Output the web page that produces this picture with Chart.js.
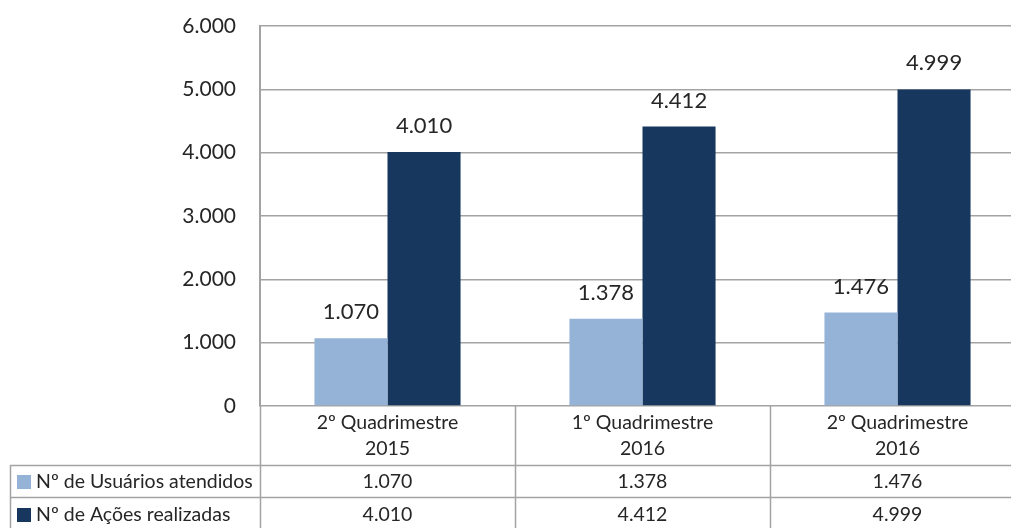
<!DOCTYPE html>
<html>
<head>
<meta charset="utf-8">
<script src="https://cdn.jsdelivr.net/npm/chart.js@4"></script>
<style>
  html, body { margin: 0; padding: 0; background: #fff; overflow: hidden; }
  #wrap { width: 1030px; height: 528px; }
</style>
</head>
<body>
<div id="wrap"><canvas id="quad-chart" width="1030" height="528"></canvas></div>
<script>
// Categories (two lines each) and series values
const categories = [
    ["2º Quadrimestre", "2015"],
    ["1º Quadrimestre", "2016"],
    ["2º Quadrimestre", "2016"]
];
const seriesNames = ["Nº de Usuários atendidos", "Nº de Ações realizadas"];
const usuarios = [1070, 1378, 1476];
const acoes = [4010, 4412, 4999];
const yMax = 6000;
const yStep = 1000;

const FONT = "Lato, 'Open Sans', sans-serif";
const TEXT = "#262626";
const LINE = "#a3a3a3";
const colors = ["#95B3D7", "#17375E"];

// thousands separator with a dot
function fmt(v) {
    return String(v).replace(/\B(?=(\d{3})+(?!\d))/g, ".");
}

// value labels above each bar
const barLabels = {
    id: "barLabels",
    afterDatasetsDraw(chart) {
        const ctx = chart.ctx;
        ctx.save();
        ctx.font = "22px " + FONT;
        ctx.fillStyle = TEXT;
        ctx.textAlign = "center";
        ctx.textBaseline = "middle";
        chart.data.datasets.forEach((ds, di) => {
            chart.getDatasetMeta(di).data.forEach((bar, i) => {
                ctx.fillText(fmt(ds.data[i]), bar.x, bar.y - 26);
            });
        });
        ctx.restore();
    }
};

// data table under the plot
const dataTable = {
    id: "dataTable",
    afterDraw(chart) {
        const ctx = chart.ctx;
        const area = chart.chartArea;
        const x = chart.scales.x;
        const catW = x.width / categories.length;
        const top = area.bottom;
        const row1 = top + 59;
        const row2 = row1 + 32;
        const bottom = row2 + 34;
        const left = 10;

        ctx.save();
        ctx.strokeStyle = LINE;
        ctx.lineWidth = 1.5;
        ctx.beginPath();
        // verticals at category edges
        for (let i = 0; i <= categories.length; i++) {
            const px = Math.round(area.left + catW * i) + 0.5;
            ctx.moveTo(px, top);
            ctx.lineTo(px, bottom);
        }
        // left header column
        ctx.moveTo(left + 0.5, row1);
        ctx.lineTo(left + 0.5, bottom);
        // row separators
        ctx.moveTo(left, row1 + 0.5);
        ctx.lineTo(area.right, row1 + 0.5);
        ctx.moveTo(left, row2 + 0.5);
        ctx.lineTo(area.right, row2 + 0.5);
        ctx.stroke();

        ctx.fillStyle = TEXT;
        ctx.textBaseline = "middle";
        ctx.textAlign = "center";
        ctx.font = "19.5px " + FONT;
        categories.forEach((lines, i) => {
            const cx = x.getPixelForValue(i);
            ctx.fillText(lines[0], cx, top + 17);
            ctx.fillText(lines[1], cx, top + 43);
            ctx.fillText(fmt(usuarios[i]), cx, row1 + 17);
            ctx.fillText(fmt(acoes[i]), cx, row2 + 18);
        });

        // series names with colour keys
        ctx.textAlign = "left";
        [row1 + 17, row2 + 18].forEach((cy, s) => {
            ctx.fillStyle = colors[s];
            ctx.fillRect(17, cy - 7, 14, 14);
            ctx.fillStyle = TEXT;
            ctx.fillText(seriesNames[s], 36, cy);
        });
        ctx.restore();
    }
};

new Chart(document.getElementById("quad-chart"), {
    type: "bar",
    data: {
        labels: categories.map(c => c.join(" ")),
        datasets: [{
            label: seriesNames[0],
            data: usuarios,
            backgroundColor: colors[0],
            categoryPercentage: 0.573,
            barPercentage: 1.0
        }, {
            label: seriesNames[1],
            data: acoes,
            backgroundColor: colors[1],
            categoryPercentage: 0.573,
            barPercentage: 1.0
        }]
    },
    options: {
        responsive: false,
        animation: false,
        layout: {
            padding: { top: 26, right: 5, bottom: 122, left: 0 }
        },
        scales: {
            x: {
                display: false
            },
            y: {
                min: 0,
                max: yMax,
                afterFit(scale) {
                    scale.width = 260;
                    scale.paddingTop = 0;
                    scale.paddingBottom = 0;
                },
                ticks: {
                    stepSize: yStep,
                    padding: 24,
                    color: TEXT,
                    font: { family: FONT, size: 21 },
                    callback: v => fmt(v)
                },
                grid: {
                    color: LINE,
                    lineWidth: 1.5,
                    drawTicks: false
                },
                border: { display: true, color: LINE, width: 2 }
            }
        },
        plugins: {
            legend: { display: false },
            tooltip: { enabled: false }
        }
    },
    plugins: [barLabels, dataTable]
});
</script>
</body>
</html>
